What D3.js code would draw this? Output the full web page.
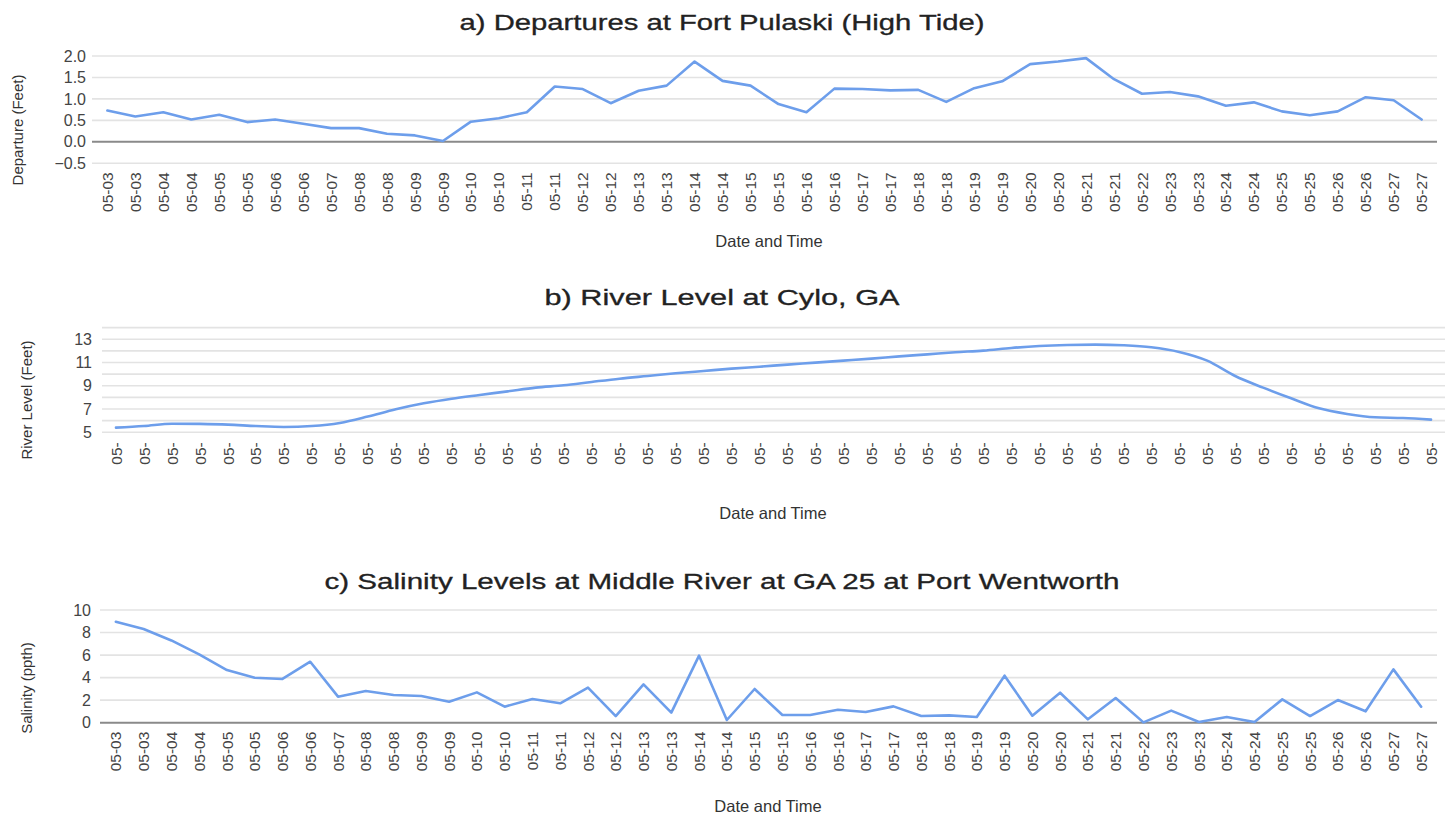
<!DOCTYPE html>
<html><head><meta charset="utf-8">
<script src="https://cdn.jsdelivr.net/npm/d3@7"></script>
<style>
body{margin:0;background:#fff;}
svg{display:block;font-family:"Liberation Sans",Arial,sans-serif;}
</style></head>
<body><svg id="c" width="1452" height="818"></svg>
<script>
const dateLabels = ["05-03","05-03","05-04","05-04","05-05","05-05","05-06","05-06","05-07","05-08","05-08","05-09","05-09","05-10","05-10","05-11","05-11","05-12","05-12","05-13","05-13","05-14","05-14","05-15","05-15","05-16","05-16","05-17","05-17","05-18","05-18","05-19","05-19","05-20","05-20","05-21","05-21","05-22","05-23","05-23","05-24","05-24","05-25","05-25","05-26","05-26","05-27","05-27"];

const departures = [0.73,0.59,0.69,0.52,0.63,0.46,0.52,0.42,0.32,0.32,0.19,0.15,0.02,0.47,0.55,0.69,1.29,1.23,0.90,1.19,1.31,1.87,1.42,1.31,0.88,0.69,1.24,1.23,1.20,1.21,0.93,1.25,1.41,1.81,1.87,1.95,1.46,1.12,1.16,1.06,0.84,0.92,0.71,0.62,0.71,1.04,0.97,0.52];

const riverLevel = [5.40,5.54,5.74,5.72,5.66,5.54,5.46,5.54,5.80,6.35,6.98,7.49,7.89,8.21,8.52,8.84,9.04,9.33,9.61,9.84,10.07,10.27,10.47,10.64,10.82,10.99,11.16,11.33,11.53,11.70,11.88,12.02,12.25,12.42,12.51,12.54,12.48,12.31,11.91,11.16,9.84,8.84,7.92,7.06,6.58,6.29,6.23,6.09];

const salinity = [8.96,8.31,7.30,6.07,4.67,3.99,3.88,5.41,2.31,2.81,2.46,2.37,1.86,2.69,1.42,2.10,1.72,3.11,0.59,3.40,0.89,5.95,0.24,2.99,0.68,0.68,1.15,0.95,1.45,0.59,0.65,0.50,4.17,0.62,2.66,0.30,2.19,0.03,1.07,0.06,0.50,0.06,2.07,0.59,2.01,1.01,4.73,1.42];

const ticksA = [-0.5,0,0.5,1.0,1.5,2.0];
const ticksB = [5,7,9,11,13];
const gridB = [5,6,7,8,9,10,11,12,13,14];
const ticksC = [0,2,4,6,8,10];

const titles = ["a) Departures at Fort Pulaski (High Tide)","b) River Level at Cylo, GA","c) Salinity Levels at Middle River at GA 25 at Port Wentworth"];
const yTitles = ["Departure (Feet)","River Level (Feet)","Salinity (ppth)"];
const xTitle = "Date and Time";

const svg = d3.select("#c");
const LINE = "#6d9eeb", GRID = "#e3e3e3", TEXT = "#444";

function panel(cfg){
  const g = svg.append("g");
  const idx = d3.range(cfg.values.length);
  const x = d3.scalePoint().domain(idx).range([cfg.left, cfg.right]).padding(cfg.pad);
  const y = d3.scaleLinear().domain(cfg.domain).range([cfg.bottom, cfg.top]);
  g.append("g").selectAll("line").data(cfg.grid).join("line")
    .attr("x1", cfg.left).attr("x2", cfg.right)
    .attr("y1", d=>y(d)).attr("y2", d=>y(d))
    .attr("stroke", d => (d===cfg.zero) ? "#8a8a8a" : GRID)
    .attr("stroke-width", d => (d===cfg.zero) ? 2 : 1.6);
  g.append("g").selectAll("text").data(cfg.ticks).join("text")
    .attr("x", cfg.left - cfg.yPad).attr("y", d=>y(d)).attr("dy","0.35em")
    .attr("text-anchor","end").attr("font-size", 16).attr("fill", TEXT)
    .text(d=>cfg.fmt(d));
  g.append("g").selectAll("text").data(idx).join("text")
    .attr("transform", i=>`translate(${x(i)},${cfg.bottom + cfg.xPad}) rotate(-90)`)
    .attr("dy","0.36em").attr("text-anchor","end").attr("font-size", 15.5).attr("fill", TEXT)
    .text(i=>cfg.xfmt(dateLabels[i]));
  g.append("path").datum(cfg.values)
    .attr("fill","none").attr("stroke", LINE).attr("stroke-width", 2.6)
    .attr("stroke-linejoin","round").attr("stroke-linecap","round")
    .attr("d", d3.line().x((d,i)=>x(i)).y(d=>y(d)).curve(cfg.curve));
  g.append("text").attr("x", 722).attr("y", cfg.titleY)
    .attr("text-anchor","middle").attr("font-size", 22).attr("fill","#222")
    .attr("stroke","#222").attr("stroke-width",0.3)
    .attr("textLength", cfg.titleLen).attr("lengthAdjust","spacingAndGlyphs")
    .text(cfg.title);
  g.append("text").attr("x", cfg.xTitleX).attr("y", cfg.xTitleY)
    .attr("text-anchor","middle").attr("font-size", 16.5).attr("fill", "#333")
    .text(xTitle);
  g.append("text").attr("transform", `translate(${cfg.yTitleX},${cfg.yTitleY}) rotate(-90)`)
    .attr("text-anchor","middle").attr("dy","0.35em").attr("font-size", 15).attr("fill", "#333")
    .text(cfg.yTitle);
}

panel({values: departures, left: 92, right: 1437, pad: 0.55, top: 56, bottom: 163.3,
  domain: [-0.5, 2.0], grid: ticksA, ticks: ticksA, zero: 0, fmt: d3.format(".1f"),
  yPad: 6, xPad: 9, xfmt: d=>d, curve: d3.curveLinear,
  title: titles[0], titleY: 30, titleLen: 525, xTitleX: 769, xTitleY: 247,
  yTitle: yTitles[0], yTitleX: 18, yTitleY: 130});

panel({values: riverLevel, left: 102, right: 1445, pad: 0.5, top: 327.6, bottom: 432.3,
  domain: [5, 14], grid: gridB, ticks: ticksB, zero: null, fmt: d=>d,
  yPad: 10, xPad: 10, xfmt: d=>d.slice(0,3), curve: d3.curveMonotoneX,
  title: titles[1], titleY: 305, titleLen: 355, xTitleX: 773, xTitleY: 519,
  yTitle: yTitles[1], yTitleX: 27, yTitleY: 400});

panel({values: salinity, left: 100, right: 1437, pad: 0.57, top: 610, bottom: 722.7,
  domain: [0, 10], grid: ticksC, ticks: ticksC, zero: 0, fmt: d=>d,
  yPad: 9, xPad: 9, xfmt: d=>d, curve: d3.curveLinear,
  title: titles[2], titleY: 589, titleLen: 795, xTitleX: 768, xTitleY: 812,
  yTitle: yTitles[2], yTitleX: 27, yTitleY: 688});
</script></body></html>
